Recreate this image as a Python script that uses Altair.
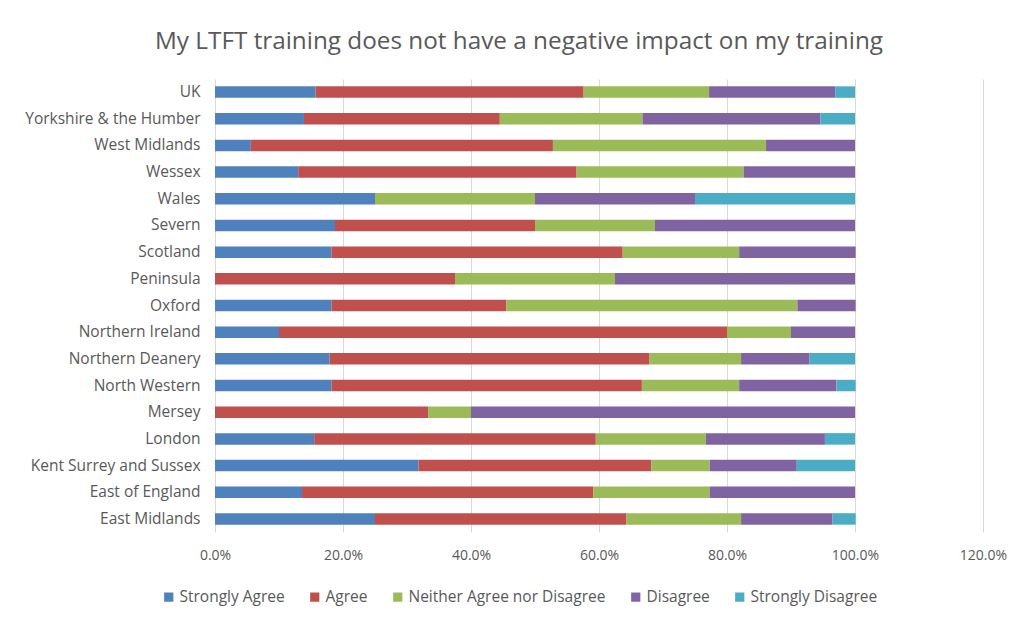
import altair as alt
import pandas as pd

regions = ["UK", "Yorkshire & the Humber", "West Midlands", "Wessex", "Wales", "Severn",
           "Scotland", "Peninsula", "Oxford", "Northern Ireland", "Northern Deanery",
           "North Western", "Mersey", "London", "Kent Surrey and Sussex", "East of England",
           "East Midlands"]
categories = ["Strongly Agree", "Agree", "Neither Agree nor Disagree", "Disagree", "Strongly Disagree"]
colors = ["#4F81BD", "#C0504D", "#9BBB59", "#8064A2", "#4BACC6"]

strongly_agree = [15.7, 13.9, 5.6, 13.0, 25.0, 18.75, 18.2, 0.0, 18.2, 10.0, 17.9, 18.2, 0.0, 15.5, 31.8, 13.6, 25.0]
agree = [41.9, 30.6, 47.2, 43.5, 0.0, 31.25, 45.5, 37.5, 27.3, 70.0, 50.0, 48.5, 33.3, 44.0, 36.4, 45.5, 39.3]
neither = [19.6, 22.3, 33.3, 26.1, 25.0, 18.75, 18.2, 25.0, 45.5, 10.0, 14.3, 15.2, 6.7, 17.2, 9.1, 18.2, 17.9]
disagree = [19.7, 27.8, 13.9, 17.4, 25.0, 31.25, 18.2, 37.5, 9.1, 10.0, 10.7, 15.2, 60.0, 18.6, 13.6, 22.7, 14.3]
strongly_disagree = [3.1, 5.4, 0.0, 0.0, 25.0, 0.0, 0.0, 0.0, 0.0, 0.0, 7.1, 3.0, 0.0, 4.7, 9.1, 0.0, 3.6]

series = [strongly_agree, agree, neither, disagree, strongly_disagree]
rows = []
for ci, (cat, vals) in enumerate(zip(categories, series)):
    for r, v in zip(regions, vals):
        rows.append({"region": r, "category": cat, "order": ci, "value": v / 100.0})
df = pd.DataFrame(rows)

FONT = "Open Sans"
TXT = "#595959"

chart = alt.Chart(df).mark_bar().encode(
    y=alt.Y("region:N", sort=regions, title=None,
            scale=alt.Scale(paddingInner=0.57, paddingOuter=0.275),
            axis=alt.Axis(ticks=False, domain=False, labelPadding=15, labelFontSize=15.5,
                          labelColor=TXT, labelFont=FONT, labelLimit=300, grid=False)),
    x=alt.X("value:Q", stack="zero", title=None,
            scale=alt.Scale(domain=[0, 1.2], nice=False),
            axis=alt.Axis(values=[0, 0.2, 0.4, 0.6, 0.8, 1.0, 1.2], format=".1%",
                          ticks=False, domain=False, labelPadding=16, labelFontSize=14,
                          labelColor=TXT, labelFont=FONT, grid=True, gridColor="#D9D9D9",
                          labelFlush=False)),
    color=alt.Color("category:N", sort=categories,
                    scale=alt.Scale(domain=categories, range=colors),
                    legend=alt.Legend(title=None, orient="none", direction="horizontal",
                                      legendX=-54, legendY=510, symbolType="square",
                                      symbolSize=85, symbolStrokeWidth=0, labelFontSize=15.5,
                                      labelColor=TXT, labelFont=FONT, columnPadding=22,
                                      labelOffset=3, labelLimit=400)),
    order=alt.Order("order:Q"),
).properties(
    width=768, height=453,
    title=alt.TitleParams("My LTFT training does not have a negative impact on my training",
                          fontSize=24.3, font=FONT, fontWeight="normal", color=TXT,
                          anchor="middle", frame="group", dx=-80, offset=25),
    autosize=alt.AutoSizeParams(type="none"),
    padding={"left": 207, "top": 71, "right": 29, "bottom": 79},
).configure_view(stroke=None)

chart.save("out.html", embed_options={"renderer": "svg", "actions": False})
